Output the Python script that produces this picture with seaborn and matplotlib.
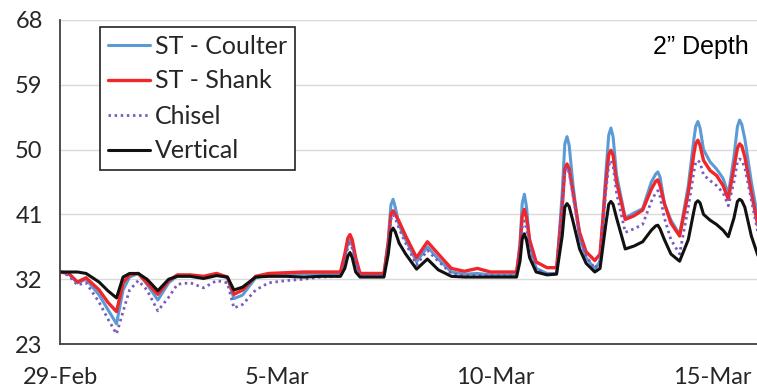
import numpy as np
import pandas as pd
import matplotlib
matplotlib.use("Agg")
import matplotlib.pyplot as plt
import seaborn as sns

# ---------------- data ----------------
start_date = "2016-02-29"
# time offsets in days from 29-Feb 00:00
days = [0.0, 0.2, 0.4, 0.6, 0.9, 1.1, 1.3, 1.45, 1.6, 1.8, 2.0, 2.25, 2.5, 2.7,
        3.0, 3.3, 3.6, 3.85, 4.0, 4.2, 4.5, 4.8, 5.2, 5.6, 6.0, 6.45, 6.55, 6.62, 6.67, 6.72,
        6.8, 6.9, 7.2, 7.45, 7.55, 7.61, 7.66, 7.71, 7.8, 7.95, 8.2, 8.45, 8.7, 9.0, 9.3, 9.6,
        9.9, 10.2, 10.5, 10.58, 10.63, 10.68, 10.73, 10.8, 10.95, 11.2, 11.42, 11.55, 11.61, 11.66, 11.71, 11.8,
        11.95, 12.1, 12.3, 12.42, 12.55, 12.62, 12.67, 12.72, 12.8, 13.0, 13.2, 13.4, 13.6, 13.70, 13.75, 13.80,
        13.9, 14.05, 14.25, 14.45, 14.58, 14.62, 14.67, 14.72, 14.8, 14.95, 15.1, 15.25, 15.37,
        15.5, 15.58, 15.63, 15.68, 15.75, 15.9, 16.05]

st_coulter = [33.0, 32.8, 31.5, 32.0, 29.8, 27.8, 25.8, 30.5, 32.3, 32.8, 31.3, 29.1, 31.5, 32.5,
              32.5, 32.3, 32.7, 32.2, 29.3, 29.8, 32.2, 32.6, 32.7, 32.8, 32.8, 32.8, 35.0, 37.0, 37.5, 37.0,
              34.5, 32.6, 32.6, 32.6, 37.5, 42.3, 43.1, 42.0, 39.5, 37.5, 34.4, 36.5, 34.8, 33.0, 32.7, 32.8,
              32.6, 32.6, 32.6, 37.0, 42.5, 43.8, 42.0, 37.0, 33.5, 32.8, 32.8, 44.0, 50.8, 51.8, 50.6, 45.0,
              37.8, 35.0, 33.4, 34.5, 46.5, 52.0, 53.0, 51.8, 46.5, 40.5, 41.2, 41.8, 45.5, 46.6, 46.9, 46.2,
              42.5, 40.2, 38.2, 45.0, 51.5, 53.2, 53.9, 53.0, 50.0, 48.3, 47.3, 46.0, 43.8,
              49.0, 53.2, 54.1, 53.5, 51.5, 45.5, 40.5]

st_shank = [33.0, 32.8, 31.6, 32.2, 30.5, 28.8, 27.5, 31.5, 32.6, 32.8, 31.5, 29.9, 31.8, 32.6,
            32.6, 32.4, 32.8, 32.3, 29.9, 30.5, 32.4, 32.8, 32.9, 33.0, 33.0, 33.0, 35.5, 37.7, 38.2, 37.5,
            35.0, 32.8, 32.8, 32.8, 37.0, 41.0, 41.5, 41.0, 40.0, 38.0, 35.0, 37.2, 35.5, 33.5, 33.1, 33.5,
            33.0, 33.0, 33.0, 36.5, 40.7, 41.7, 40.5, 37.5, 34.4, 33.6, 33.6, 42.0, 47.3, 48.0, 47.3, 44.0,
            38.5, 35.8, 34.6, 35.5, 45.0, 49.3, 49.9, 49.2, 45.5, 40.3, 40.8, 41.6, 44.5, 45.6, 45.8, 45.0,
            42.5, 39.8, 38.0, 44.0, 49.5, 50.8, 51.3, 50.6, 48.5, 47.1, 46.4, 45.0, 43.1,
            47.5, 50.2, 50.8, 50.5, 49.0, 44.0, 39.5]

chisel = [33.0, 32.5, 31.2, 31.5, 28.8, 26.5, 24.4, 27.5, 30.5, 31.8, 30.5, 27.6, 29.5, 31.3,
          31.5, 30.8, 31.8, 31.5, 28.0, 28.5, 30.5, 31.5, 31.8, 32.0, 32.3, 32.4, 34.5, 36.5, 37.0, 36.3,
          34.5, 32.5, 32.5, 32.5, 36.5, 40.3, 41.0, 40.5, 39.0, 37.0, 34.0, 36.0, 34.5, 32.8, 32.5, 32.5,
          32.5, 32.5, 32.5, 35.5, 39.2, 40.1, 39.0, 36.5, 33.4, 32.7, 32.7, 42.0, 46.8, 47.5, 46.8, 43.5,
          38.0, 35.2, 33.5, 34.5, 44.0, 47.8, 48.5, 47.8, 44.0, 38.5, 39.0, 39.6, 42.8, 44.0, 44.3, 43.5,
          40.5, 37.5, 35.5, 42.0, 47.0, 48.2, 48.5, 48.2, 46.5, 45.7, 45.0, 44.0, 42.2,
          45.5, 48.3, 48.7, 48.5, 47.5, 43.0, 38.5]

vertical = [33.0, 33.0, 33.0, 32.8, 31.6, 30.4, 29.4, 32.3, 32.8, 32.8, 32.0, 30.4, 32.0, 32.4,
            32.4, 32.1, 32.5, 32.3, 30.5, 30.9, 32.3, 32.4, 32.4, 32.3, 32.4, 32.4, 33.5, 35.2, 35.7, 35.0,
            33.0, 32.3, 32.3, 32.3, 35.5, 38.6, 39.1, 38.6, 37.0, 35.5, 33.4, 34.8, 33.3, 32.4, 32.3, 32.3,
            32.3, 32.3, 32.3, 34.5, 37.6, 38.3, 37.4, 35.0, 33.0, 32.6, 32.7, 38.0, 42.0, 42.5, 42.1, 40.0,
            36.2, 34.2, 33.0, 33.5, 39.5, 42.4, 42.8, 42.4, 40.5, 36.2, 36.6, 37.2, 38.8, 39.4, 39.5, 39.0,
            37.5, 35.5, 34.5, 37.5, 41.5, 42.6, 42.9, 42.6, 41.0, 40.2, 39.6, 38.8, 37.9,
            40.5, 42.8, 43.1, 42.9, 42.0, 38.0, 35.3]

series_names = ["ST - Coulter", "ST - Shank", "Chisel", "Vertical"]
y_ticks = [23, 32, 41, 50, 59, 68]
x_tick_dates = ["2016-02-29", "2016-03-05", "2016-03-10", "2016-03-15"]
x_tick_labels = ["29-Feb", "5-Mar", "10-Mar", "15-Mar"]
annotation = "2\u201d Depth"

# ---------------- build frame ----------------
times = pd.Timestamp(start_date) + pd.to_timedelta(days, unit="D")
df = pd.concat([
    pd.DataFrame({"time": times, "value": vals, "series": name})
    for name, vals in zip(series_names, [st_coulter, st_shank, chisel, vertical])
], ignore_index=True)

# ---------------- style ----------------
sns.set_style("white")
plt.rcParams["font.family"] = ["Lato", "DejaVu Sans"]

styles = {
    "ST - Coulter": dict(color="#5b9bd5", lw=2.2, ls="-"),
    "ST - Shank":   dict(color="#f0262b", lw=2.4, ls="-"),
    "Chisel":       dict(color="#7a5cc0", lw=2.0, ls=(0, (0.9, 1.3))),
    "Vertical":     dict(color="#111111", lw=2.2, ls="-"),
}

fig = plt.figure(figsize=(7.57, 3.91), dpi=100)
ax = fig.add_axes([60 / 757, 1 - 344 / 391, 1 - 60 / 757, (344 - 20) / 391])

for name in series_names:
    st = styles[name]
    sns.lineplot(data=df[df["series"] == name], x="time", y="value", ax=ax,
                 color=st["color"], linewidth=st["lw"], linestyle=st["ls"],
                 label=name, estimator=None, sort=True)

ax.set_ylim(y_ticks[0], y_ticks[-1])
ax.set_yticks(y_ticks)
ax.set_xlim(pd.Timestamp(start_date), pd.Timestamp(start_date) + pd.Timedelta(days=16.03))
ax.set_xticks(pd.to_datetime(x_tick_dates))
ax.set_xticklabels(x_tick_labels)
ax.set_xlabel("")
ax.set_ylabel("")

# grid
ax.yaxis.grid(True, color="#d9d9d9", linewidth=1.0)
ax.xaxis.grid(False)
ax.set_axisbelow(True)

# spines
for s in ["top", "right"]:
    ax.spines[s].set_visible(False)
for s in ["left", "bottom"]:
    ax.spines[s].set_color("#404040")
    ax.spines[s].set_linewidth(1.3)
    ax.spines[s].set_zorder(5)

ax.tick_params(axis="both", direction="inout", length=13, width=1.2,
               color="#404040", labelcolor="#262626", labelsize=17)
ax.tick_params(axis="y", pad=6)
ax.tick_params(axis="x", pad=10)

# legend
leg = ax.legend(loc="upper left", bbox_to_anchor=((100 - 60) / 697, 1 - (27 - 20) / 324),
                borderaxespad=0, frameon=True, fancybox=False, framealpha=1,
                edgecolor="#222222", fontsize=18, handlelength=1.7, handletextpad=0.2,
                labelspacing=0.48, borderpad=0.3)
leg.get_frame().set_linewidth(1.2)
for t in leg.get_texts():
    t.set_color("#262626")

ax.text((749 - 60) / 697, 1 - (54 - 20) / 324, annotation, transform=ax.transAxes,
        ha="right", va="baseline", fontsize=18, family="Liberation Sans", color="black")

fig.savefig("out.png", dpi=100)
